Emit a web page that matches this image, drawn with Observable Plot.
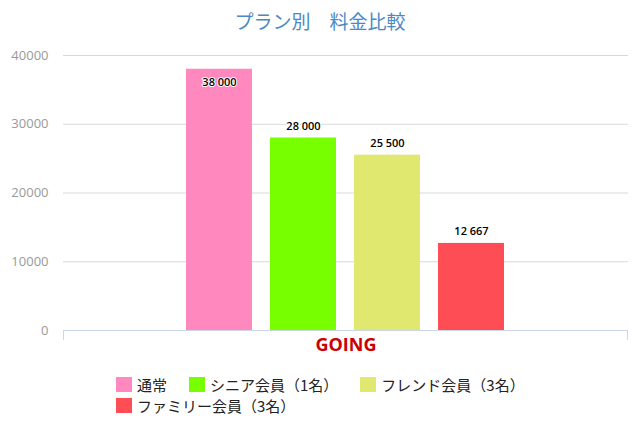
<!DOCTYPE html>
<html><head><meta charset="utf-8">
<script src="https://cdn.jsdelivr.net/npm/d3@7"></script>
<script src="https://cdn.jsdelivr.net/npm/@observablehq/plot@0.6"></script>
<style>
body{margin:0;background:#fff;font-family:"Open Sans","Noto Sans CJK JP",sans-serif;}
#title{box-sizing:border-box;height:40px;padding-top:11px;text-align:center;font-family:"Noto Sans CJK JP",sans-serif;font-size:19px;line-height:20px;color:#4a88c7;}
#chart svg{display:block;}
#legend{box-sizing:border-box;margin-left:116px;width:420px;padding-top:9px;display:flex;flex-wrap:wrap;column-gap:22px;row-gap:0;font-family:"Noto Sans CJK JP",sans-serif;font-size:15px;color:#222;}
.item{display:flex;align-items:center;height:21px;white-space:nowrap;}
.sw{width:16px;height:15px;margin-right:5px;flex:none;}
</style></head><body>
<div id="title">プラン別　料金比較</div>
<div id="chart"></div>
<div id="legend"></div>
<script>
const category = "GOING";
const series = ["通常", "シニア会員（1名）", "フレンド会員（3名）", "ファミリー会員（3名）"];
const values = [38000, 28000, 25500, 12667];
const colors = ["#ff88bf", "#77ff00", "#e0e870", "#ff4d55"];
const yTicks = [0, 10000, 20000, 30000, 40000];

const data = series.map((s, i) => ({series: s, value: values[i]}));
const yMax = d3.max(yTicks);
const W = 640, H = 325, mT = 15, mB = 35, mL = 63, mR = 12;
const plotH = H - mT - mB;
const inside = d => (yMax - d.value) / yMax * plotH < 18;
const fmt = d3.formatLocale({decimal: ".", thousands: " ", grouping: [3], currency: ["", ""]}).format(",d");

const endTicks = (index, scales, vals, dims) => {
  const g = d3.create("svg:g");
  const x0 = dims.marginLeft + 0.5, x1 = dims.width - dims.marginRight - 0.5;
  const y = dims.height - dims.marginBottom;
  g.append("path")
    .attr("d", `M${x0},${y}V${y + 10}M${x1},${y}V${y + 10}`)
    .attr("fill", "none").attr("stroke", "#ccd6eb");
  return g.node();
};

const chart = Plot.plot({
  width: W, height: H,
  marginTop: mT, marginBottom: mB, marginLeft: mL, marginRight: mR,
  style: {fontFamily: "'Open Sans', sans-serif", background: "#fff"},
  x: {domain: series, insetLeft: 122, insetRight: 122, paddingInner: 0.21, paddingOuter: 0, axis: null},
  y: {domain: [0, yMax], axis: null},
  color: {domain: series, range: colors},
  marks: [
    Plot.gridY(yTicks.filter(t => t > 0), {stroke: "#d8d8d8", strokeOpacity: 1}),
    Plot.axisY(yTicks, {tickSize: 0, tickPadding: 15, fill: "#999", fontSize: 13, label: null, tickFormat: d3.format("d")}),
    Plot.barY(data, {x: "series", y: "value", fill: "series"}),
    Plot.ruleY([0], {stroke: "#ccd6eb"}),
    endTicks,
    Plot.text(data.filter(d => !inside(d)), {x: "series", y: "value", text: d => fmt(d.value), dy: -12,
      fontSize: 11, fontWeight: 600, fill: "#000", stroke: "#fff", strokeWidth: 2}),
    Plot.text(data.filter(inside), {x: "series", y: "value", text: d => fmt(d.value), dy: 13,
      fontSize: 11, fontWeight: 600, fill: "#000", stroke: "#fff", strokeWidth: 2}),
    Plot.text([category], {text: d => d, frameAnchor: "bottom", dy: 20, fontSize: 18, fontWeight: "bold", fill: "#cc0000"})
  ]
});
document.getElementById("chart").appendChild(chart);

const legend = d3.select("#legend");
series.forEach((s, i) => {
  const it = legend.append("div").attr("class", "item");
  it.append("div").attr("class", "sw").style("background", colors[i]);
  it.append("span").text(s);
});
</script>
</body></html>
